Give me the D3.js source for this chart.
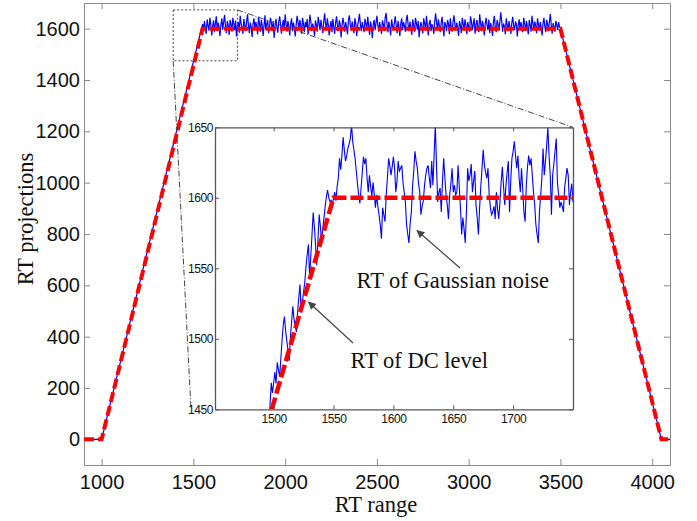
<!DOCTYPE html>
<html>
<head>
<meta charset="utf-8">
<script src="https://cdn.jsdelivr.net/npm/d3@7"></script>
<style>
  html, body { margin: 0; padding: 0; background: #fff; }
  svg { display: block; }
  .tick text { font-family: "Liberation Sans", Arial, sans-serif; fill: #111; }
  .lbl { font-family: "Liberation Serif", "Times New Roman", serif; fill: #111; }
</style>
</head>
<body>
<svg id="chart" width="697" height="521"></svg>
<script>
// main axes data
const xDomain = [904, 4097];
const yDomain = [-100, 1700];
const xTicks = [1000, 1500, 2000, 2500, 3000, 3500, 4000];
const yTicks = [0, 200, 400, 600, 800, 1000, 1200, 1400, 1600];

// RT of the DC level (trapezoid breakpoints)
const dcLevel = [[904, 0], [1000, 0], [1550, 1600], [3500, 1600], [4050, 0], [4097, 0]];

// noise on the plateau, one value every 5 units from 1550 to 3500
const plateauStart = 1550;
const plateauStep = 5;
const noiseMain = [
  18, -12, 30, 6, -20, 36, 12, -8, 42, 16, -26, 10, 32, -14, 22, 48,
  -10, 24, 4, -28, 16, 40, -4, 26, 54, 8, -18, 30, 12, -24, 34, 18,
  -12, 42, 20, -6, 32, -30, 8, 26, -16, 50, 22, 4, -20, 38, 14, -10,
  28, 56, 12, -18, 24, 6, -32, 18, 40, -4, 26, 10, -22, 46, 20, -12,
  34, 14, -28, 12, 52, -6, 20, 32, -18, 8, 42, 24, -10, 30, -36, 14,
  38, 6, -16, 26, 48, 18, -20, 12, 34, -4, 56, 20, -12, 30, 8, -26,
  18, 40, -10, 24, 4, -30, 14, 50, 26, -6, 34, 12, -20, 42, 18, -14,
  26, 6, 38, -22, 12, 54, 28, -10, 20, 4, -28, 32, 14, -12, 46, 24,
  -6, 34, 8, -18, 26, 60, 20, -4, 40, 14, -26, 10, 30, -14, 38, 6,
  -20, 24, 48, 12, -10, 32, 18, -34, 14, 42, 20, -12, 26, 4, -22, 34,
  52, 14, -6, 28, 8, -18, 40, 22, -28, 12, 32, 58, 16, -10, 26, 6,
  -14, 38, 20, -4, 46, 12, -24, 28, 8, -36, 18, 34, -6, 22, 50, 14,
  -12, 26, 4, -20, 32, 18, -10, 42, 62, 20, -14, 28, 6, -26, 36, 12,
  -4, 22, 48, 14, -18, 30, 8, -28, 20, 40, -6, 26, 12, -12, 34, 54,
  16, -10, 28, 4, -24, 36, 14, -14, 42, 22, -4, 30, -34, 8, 26, 6,
  -18, 40, 20, -6, 50, 12, -26, 22, 34, -10, 18, 4, -20, 28, 60, 24,
  -4, 36, 12, -14, 20, 46, 8, -30, 26, 14, -10, 34, 18, -22, 40, 6,
  -12, 28, 52, 16, -6, 24, 4, -28, 30, 12, -18, 42, 20, -4, 36, 14,
  -22, 26, 8, -12, 48, 28, -6, 18, 40, -20, 14, 34, 6, -14, 56, 22,
  -10, 30, 12, -26, 20, 42, 14, -6, 36, -18, 22, 4, -28, 28, 50, 8,
  -14, 34, 18, -4, 26, 64, 28, -12, 20, 8, -22, 40, 14, -10, 30, 6,
  -20, 22, 46, 12, -6, 28, 18, -30, 14, 36, -4, 26, 8, -14, 42, 20,
  -10, 30, 6, -22, 34, 14, -12, 50, 22, -4, 28, 12, -18, 40, 16, -6,
  26, 4, -26, 20, 42, 8, -14, 34, 18, -10, 28, 58, 14, -20, 22, 6,
  -12, 30, 14, -6, 26, 8, 0
];

// inset (zoom) data
const zoomXDomain = [1451, 1750];
const zoomYDomain = [1450, 1650];
const zoomXTicks = [1500, 1550, 1600, 1650, 1700];
const zoomYTicks = [1450, 1500, 1550, 1600, 1650];
const zoomStart = 1495; // one noise value per unit from here to 1750
const noiseZoom = [
  // ramp 1495..1549
  2, -6, 8, 20, 10, 14, 19, 8, 20, 12, 4, 14, 24, 32, 35, 22,
  12, 2, -8, 6, 14, 22, 10, 2, -5, 6, 14, 20, -3, 2, 6, 10,
  18, 24, 28, 2, 14, 26, 39, 26, 10, -7, 8, 23, 12, -2, 4, 9,
  14, 18, 20, 12, 6, 4, -2,
  // plateau 1550..1750
  0, 4, -2, 8, 14, 28, 20, 30, 43, 34, 26, 30, 35, 38, 42, 52,
  40, 34, 28, 19, 10, 2, -4, 7, 18, 29, 24, 28, 14, 4, 16, 8,
  1, 11, 3, -7, 2, -6, -12, -19, -29, -7, -12, -17, 2, 14, 28, 23,
  16, 22, 29, 21, 4, 12, 26, 19, 21, 23, 11, 4, -3, -19, -26, -32,
  -18, -10, 8, 19, 33, 26, 21, 10, 4, -12, -6, -2, 9, 16, 21, 23,
  14, 7, 26, 9, 30, 52, 23, -3, 4, 7, -10, 12, 28, 14, 2, -5,
  -15, 2, 10, 21, 4, 9, 2, 4, 23, 8, -7, -26, -14, -22, -32, -10,
  21, 12, 16, 24, 4, 12, 19, -5, -14, -26, -7, 8, 21, 34, 23, 18,
  14, 21, 2, -7, -12, -10, -6, -15, 4, -8, -15, -3, 11, 22, 8, -5,
  9, 18, 26, -10, 12, 28, 33, 40, 30, 21, 30, 14, 4, 21, 6, -10,
  -17, 9, 22, 30, 23, 28, 16, 4, -5, -19, -26, -32, -10, 2, 14, 35,
  16, 26, 37, 50, 30, 16, -12, 16, 24, 33, 42, 11, 2, -7, -3, -6,
  -10, 7, 14, 21, 16, -5, 4, 10, -3
];

// dotted box marking the zoomed area (data coords of the main plot)
const zoomBox = { x0: 1390, x1: 1740, y0: 1475, y1: 1673 };

const svg = d3.select("#chart");
const axisColor = "#8a8a8a";

// layout
const M = { left: 84, right: 670, top: 3, bottom: 465 };
const I = { left: 215, right: 573, top: 127.3, bottom: 409.3 };

const x = d3.scaleLinear().domain(xDomain).range([M.left, M.right]);
const y = d3.scaleLinear().domain(yDomain).range([M.bottom, M.top]);
const dc = d3.scaleLinear().domain(dcLevel.map(d => d[0])).range(dcLevel.map(d => d[1]));

const blueMain = [[904, 0], [1000, 0]]
  .concat(noiseMain.map((n, i) => [plateauStart + i * plateauStep, 1600 + n]))
  .concat([[4050, 0], [4097, 0]]);

svg.append("rect").attr("width", 697).attr("height", 521).attr("fill", "#fff");

const defs = svg.append("defs");
defs.append("clipPath").attr("id", "clipMain").append("rect")
  .attr("x", M.left).attr("y", M.top)
  .attr("width", M.right - M.left).attr("height", M.bottom - M.top);
defs.append("clipPath").attr("id", "clipZoom").append("rect")
  .attr("x", I.left).attr("y", I.top)
  .attr("width", I.right - I.left).attr("height", I.bottom - I.top);
defs.append("marker").attr("id", "arrow")
  .attr("viewBox", "0 0 10 10").attr("refX", 9).attr("refY", 5)
  .attr("markerWidth", 10).attr("markerHeight", 8)
  .attr("markerUnits", "userSpaceOnUse")
  .attr("orient", "auto-start-reverse")
  .append("path").attr("d", "M0,0L10,5L0,10z").attr("fill", "#444");

// ---- main axes box ----
function styleAxis(g) {
  g.select(".domain").attr("stroke", axisColor);
  g.selectAll(".tick line").attr("stroke", axisColor);
}

svg.append("g").attr("transform", `translate(0,${M.bottom})`)
  .call(d3.axisBottom(x).tickValues(xTicks).tickSizeInner(-6).tickSizeOuter(0).tickPadding(10).tickFormat(d3.format("d")))
  .call(styleAxis)
  .call(g => g.selectAll(".tick text").attr("font-size", 20));
svg.append("g").attr("transform", `translate(0,${M.top})`)
  .call(d3.axisTop(x).tickValues(xTicks).tickSizeInner(-6).tickSizeOuter(0).tickFormat(""))
  .call(styleAxis);
svg.append("g").attr("transform", `translate(${M.left},0)`)
  .call(d3.axisLeft(y).tickValues(yTicks).tickSizeInner(-6).tickSizeOuter(0).tickPadding(4).tickFormat(d3.format("d")))
  .call(styleAxis)
  .call(g => g.selectAll(".tick text").attr("font-size", 20));
svg.append("g").attr("transform", `translate(${M.right},0)`)
  .call(d3.axisRight(y).tickValues(yTicks).tickSizeInner(-6).tickSizeOuter(0).tickFormat(""))
  .call(styleAxis);

// ---- main series ----
const line = d3.line().x(d => x(d[0])).y(d => y(d[1]));
const gMain = svg.append("g").attr("clip-path", "url(#clipMain)");
gMain.append("path").datum(blueMain).attr("d", line)
  .attr("fill", "none").attr("stroke", "#0000ff").attr("stroke-width", 1.2);
gMain.append("path").datum(dcLevel).attr("d", line)
  .attr("fill", "none").attr("stroke", "#ff0000").attr("stroke-width", 4)
  .attr("stroke-dasharray", "10,4");

// zoom marker box + connectors
svg.append("rect")
  .attr("x", x(zoomBox.x0)).attr("y", y(zoomBox.y1))
  .attr("width", x(zoomBox.x1) - x(zoomBox.x0)).attr("height", y(zoomBox.y0) - y(zoomBox.y1))
  .attr("fill", "none").attr("stroke", "#444").attr("stroke-width", 1)
  .attr("stroke-dasharray", "2,2");
svg.append("line")
  .attr("x1", x(zoomBox.x1)).attr("y1", y(zoomBox.y1))
  .attr("x2", I.right).attr("y2", I.top)
  .attr("stroke", "#444").attr("stroke-width", 1).attr("stroke-dasharray", "6,2,1,2");
svg.append("line")
  .attr("x1", x(zoomBox.x0)).attr("y1", y(zoomBox.y0))
  .attr("x2", I.left - 24).attr("y2", I.bottom)
  .attr("stroke", "#444").attr("stroke-width", 1).attr("stroke-dasharray", "6,2,1,2");

// axis labels
svg.append("text").attr("class", "lbl")
  .attr("x", (M.left + M.right) / 2 - 1).attr("y", 512)
  .attr("text-anchor", "middle").attr("font-size", 22.5).text("RT range");
svg.append("text").attr("class", "lbl")
  .attr("transform", "translate(33,219) rotate(-90)")
  .attr("text-anchor", "middle").attr("font-size", 22.5).text("RT projections");

// ---- inset ----
const xi = d3.scaleLinear().domain(zoomXDomain).range([I.left, I.right]);
const yi = d3.scaleLinear().domain(zoomYDomain).range([I.bottom, I.top]);
const lineI = d3.line().x(d => xi(d[0])).y(d => yi(d[1]));
const blueZoom = noiseZoom.map((n, i) => [zoomStart + i, dc(zoomStart + i) + n]);

svg.append("rect")
  .attr("x", I.left).attr("y", I.top)
  .attr("width", I.right - I.left).attr("height", I.bottom - I.top)
  .attr("fill", "#fff");

const gZoom = svg.append("g").attr("clip-path", "url(#clipZoom)");
gZoom.append("path").datum(blueZoom).attr("d", lineI)
  .attr("fill", "none").attr("stroke", "#0000ff").attr("stroke-width", 1.1);
gZoom.append("path").datum(dcLevel).attr("d", lineI)
  .attr("fill", "none").attr("stroke", "#ff0000").attr("stroke-width", 4.5)
  .attr("stroke-dasharray", "13,4");

const insetColor = "#555";
function styleInset(g) {
  g.select(".domain").attr("stroke", insetColor).attr("stroke-width", 1.3);
  g.selectAll(".tick line").attr("stroke", insetColor);
  g.selectAll(".tick text").attr("font-size", 12).attr("letter-spacing", -0.4).attr("fill", "#222");
}
svg.append("g").attr("transform", `translate(0,${I.bottom})`)
  .call(d3.axisBottom(xi).tickValues(zoomXTicks).tickSizeInner(-4).tickSizeOuter(0).tickPadding(5).tickFormat(d3.format("d")))
  .call(styleInset);
svg.append("g").attr("transform", `translate(0,${I.top})`)
  .call(d3.axisTop(xi).tickValues(zoomXTicks).tickSizeInner(-4).tickSizeOuter(0).tickFormat(""))
  .call(styleInset);
svg.append("g").attr("transform", `translate(${I.left},0)`)
  .call(d3.axisLeft(yi).tickValues(zoomYTicks).tickSizeInner(-4).tickSizeOuter(0).tickPadding(2).tickFormat(d3.format("d")))
  .call(styleInset);
svg.append("g").attr("transform", `translate(${I.right},0)`)
  .call(d3.axisRight(yi).tickValues(zoomYTicks).tickSizeInner(-4).tickSizeOuter(0).tickFormat(""))
  .call(styleInset);

// annotations
svg.append("text").attr("class", "lbl").attr("x", 356.5).attr("y", 288)
  .attr("font-size", 22.5).text("RT of Gaussian noise");
svg.append("text").attr("class", "lbl").attr("x", 350.5).attr("y", 368)
  .attr("font-size", 22.5).text("RT of DC level");
svg.append("line").attr("x1", 460).attr("y1", 268).attr("x2", 417).attr("y2", 230.5)
  .attr("stroke", "#444").attr("stroke-width", 1.2).attr("marker-end", "url(#arrow)");
svg.append("line").attr("x1", 353).attr("y1", 343).attr("x2", 308.5).attr("y2", 302)
  .attr("stroke", "#444").attr("stroke-width", 1.2).attr("marker-end", "url(#arrow)");
</script>
</body>
</html>
